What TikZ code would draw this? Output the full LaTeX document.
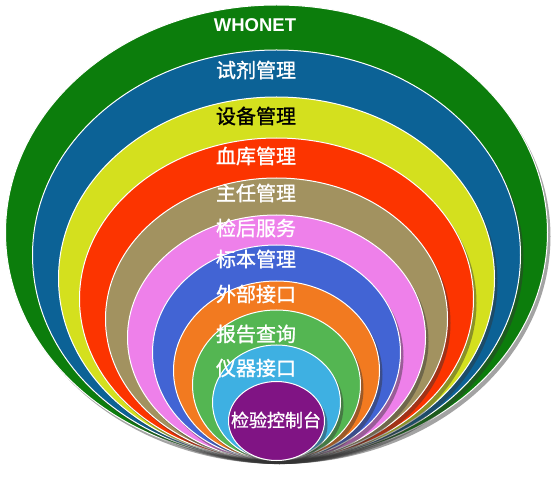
\documentclass[tikz,border=0pt]{standalone}
\usepackage{fontspec}
\setmainfont{Liberation Sans}
\newfontfamily\cjk[AutoFakeBold=1.2]{Noto Sans CJK SC}
\usepackage{tikz}
\usetikzlibrary{shadows}
\usetikzlibrary{positioning}
\definecolor{ringWho}{RGB}{12,125,12}
\definecolor{ringReag}{RGB}{12,98,150}
\definecolor{ringDev}{RGB}{212,224,30}
\definecolor{ringBlood}{RGB}{252,52,0}
\definecolor{ringHead}{RGB}{162,146,96}
\definecolor{ringServ}{RGB}{238,128,234}
\definecolor{ringSpec}{RGB}{66,100,212}
\definecolor{ringExt}{RGB}{242,122,32}
\definecolor{ringRep}{RGB}{84,182,82}
\definecolor{ringInst}{RGB}{62,176,226}
\definecolor{ringCon}{RGB}{128,20,132}
\tikzset{ring/.style={draw=white,line width=1pt,drop shadow={shadow xshift=3pt,shadow yshift=-4pt,opacity=0.45,fill=black!80}},
  lbl/.style={text=white,font=\cjk\bfseries\fontsize{20}{20}\selectfont,inner sep=0pt}}
\begin{document}
\begin{tikzpicture}[x=1pt,y=-1pt]
\useasboundingbox (0,0) rectangle (557,478);
\filldraw[ring,fill=ringWho] (276.5,232.5) ellipse (271 and 227.5);
\filldraw[ring,fill=ringReag] (276.5,255) ellipse (244 and 205);
\filldraw[ring,fill=ringDev] (276.5,278.5) ellipse (218 and 181.5);
\filldraw[ring,fill=ringBlood] (276.5,299) ellipse (197 and 161);
\filldraw[ring,fill=ringHead] (276.5,319) ellipse (171 and 141);
\filldraw[ring,fill=ringServ] (276.5,337.5) ellipse (149 and 122.5);
\filldraw[ring,fill=ringSpec] (276.5,352.5) ellipse (124 and 107.5);
\filldraw[ring,fill=ringExt] (276.5,370.5) ellipse (103 and 89.5);
\filldraw[ring,fill=ringRep] (276.5,385) ellipse (84 and 75);
\filldraw[ring,fill=ringInst] (276.5,402.5) ellipse (64 and 57.5);
\filldraw[ring,fill=ringCon] (276.5,421) ellipse (48 and 39.5);
\node (who) at (255,25) [text=white,font=\bfseries\fontsize{18.5}{18.5}\selectfont] {WHONET};
\node[lbl] (reag) at (256,70) {试剂管理};
\node[lbl,text=black] (dev) at (256,116) {设备管理};
\node[lbl] (blood) at (256,156) {血库管理};
\node[lbl] (head) at (256,193) {主任管理};
\node[lbl] (serv) at (256,228) {检后服务};
\node[lbl] (spec) at (256,259) {标本管理};
\node[lbl] (ext) at (256,294) {外部接口};
\node[lbl] (rep) at (256,334) {报告查询};
\node[lbl] (inst) at (256,368) {仪器接口};
\node[lbl,font=\cjk\bfseries\fontsize{18}{18}\selectfont] (con) at (276,420) {检验控制台};
\end{tikzpicture}
\end{document}
